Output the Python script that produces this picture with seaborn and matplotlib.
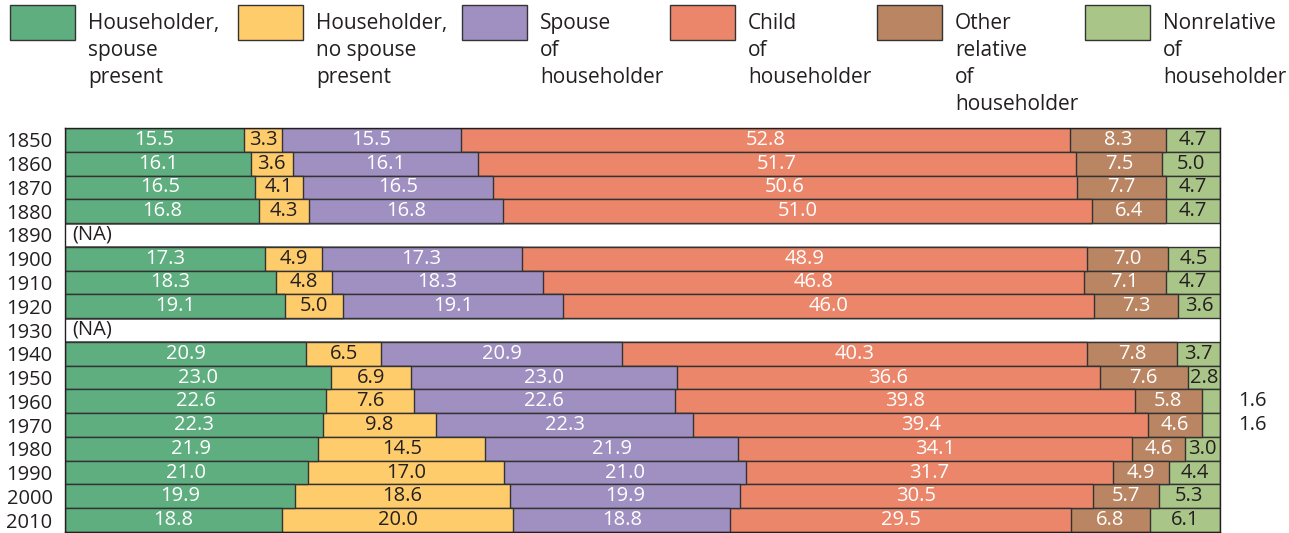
import numpy as np
import pandas as pd
import seaborn as sns
import matplotlib.pyplot as plt
from matplotlib.patches import Rectangle

years = ['1850', '1860', '1870', '1880', '1890', '1900', '1910', '1920', '1930',
         '1940', '1950', '1960', '1970', '1980', '1990', '2000', '2010']
categories = ['Householder,\nspouse\npresent', 'Householder,\nno spouse\npresent',
              'Spouse\nof\nhouseholder', 'Child\nof\nhouseholder',
              'Other\nrelative\nof\nhouseholder', 'Nonrelative\nof\nhouseholder']
na = np.nan
hh_spouse = [15.5, 16.1, 16.5, 16.8, na, 17.3, 18.3, 19.1, na, 20.9, 23.0, 22.6, 22.3, 21.9, 21.0, 19.9, 18.8]
hh_nospouse = [3.3, 3.6, 4.1, 4.3, na, 4.9, 4.8, 5.0, na, 6.5, 6.9, 7.6, 9.8, 14.5, 17.0, 18.6, 20.0]
spouse = [15.5, 16.1, 16.5, 16.8, na, 17.3, 18.3, 19.1, na, 20.9, 23.0, 22.6, 22.3, 21.9, 21.0, 19.9, 18.8]
child = [52.8, 51.7, 50.6, 51.0, na, 48.9, 46.8, 46.0, na, 40.3, 36.6, 39.8, 39.4, 34.1, 31.7, 30.5, 29.5]
other_rel = [8.3, 7.5, 7.7, 6.4, na, 7.0, 7.1, 7.3, na, 7.8, 7.6, 5.8, 4.6, 4.6, 4.9, 5.7, 6.8]
nonrel = [4.7, 5.0, 4.7, 4.7, na, 4.5, 4.7, 3.6, na, 3.7, 2.8, 1.6, 1.6, 3.0, 4.4, 5.3, 6.1]

colors = ['#5eae7f', '#ffcc6b', '#9f90c1', '#ec866a', '#b98562', '#aac588']
text_colors = ['white', '#231f20', 'white', 'white', 'white', '#231f20']

sns.set_theme(style='white')
plt.rcParams['font.family'] = ['Open Sans', 'DejaVu Sans']

vals = np.array([hh_spouse, hh_nospouse, spouse, child, other_rel, nonrel]).T
totals = vals.sum(axis=1, keepdims=True)
share = vals / totals * 100  # normalise so every row ends at 100
cum = np.cumsum(share, axis=1)

fig = plt.figure(figsize=(12.89, 5.33), dpi=100)
ax = fig.add_axes([65 / 1289, 1 / 533, 1155 / 1289, 404 / 533])

# stacked bars: draw the cumulative totals from the outermost layer inwards
for i in range(len(categories) - 1, -1, -1):
    df = pd.DataFrame({'year': years, 'value': cum[:, i]})
    sns.barplot(data=df, x='value', y='year', order=years, orient='h',
                color=colors[i], saturation=1, width=1.0,
                edgecolor='#333333', linewidth=1, ax=ax)

fs = 14.5
for r, yr in enumerate(years):
    if np.isnan(vals[r, 0]):
        ax.text(0.6, r, '(NA)', va='center', ha='left', fontsize=fs, color='#231f20')
        continue
    for i in range(len(categories)):
        v = vals[r, i]
        start = cum[r, i] - share[r, i]
        if v < 2:
            ax.text(101.6, r, f'{v:.1f}', va='center', ha='left', fontsize=fs,
                    color='#231f20', clip_on=False)
        else:
            ax.text(start + share[r, i] / 2, r, f'{v:.1f}', va='center', ha='center',
                    fontsize=fs, color=text_colors[i])

ax.set_xlim(0, 100)
ax.set_ylim(len(years) - 0.5, -0.5)
ax.set_xlabel('')
ax.set_ylabel('')
ax.set_xticks([])
ax.tick_params(axis='y', length=0, labelsize=14.5, pad=9, labelcolor='#231f20')
for s in ax.spines.values():
    s.set_color('#231f20')
    s.set_linewidth(1)

# legend drawn across the top
box_x = [10, 238, 462, 670, 877, 1085]
for i, lab in enumerate(categories):
    fig.patches.append(Rectangle((box_x[i] / 1289, 1 - 40 / 533), 65 / 1289, 35 / 533,
                                 transform=fig.transFigure, facecolor=colors[i],
                                 edgecolor='#333333', linewidth=1))
    fig.text((box_x[i] + 78) / 1289, 1 - 13 / 533, lab, ha='left', va='top',
             fontsize=15, linespacing=1.38, color='#231f20')

fig.savefig('out.png', dpi=100)
